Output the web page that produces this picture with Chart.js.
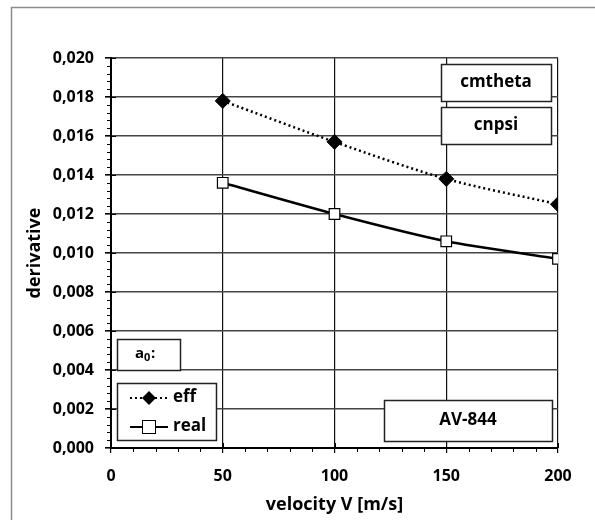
<!DOCTYPE html>
<html>
<head>
<meta charset="utf-8">
<script src="https://cdn.jsdelivr.net/npm/chart.js@4.4.1/dist/chart.umd.min.js"></script>
<style>
  html, body { margin: 0; padding: 0; background: #fff; }
  #wrap { width: 595px; height: 520px; position: relative; }
</style>
</head>
<body>
<div id="wrap"><canvas id="grafico"></canvas></div>
<script>
const velocity = [50, 100, 150, 200];
const derivEff = [0.0178, 0.0157, 0.0138, 0.0125];
const derivReal = [0.0136, 0.0120, 0.0106, 0.0097];
const xTicks = [0, 50, 100, 150, 200];
const yTicks = [0, 0.002, 0.004, 0.006, 0.008, 0.010, 0.012, 0.014, 0.016, 0.018, 0.020];
const boxLabels = ["cmtheta", "cnpsi", "AV-844"];

const FONT = '"Open Sans", sans-serif';

const toPoints = (xs, ys) => xs.map((x, i) => ({ x: x, y: ys[i] }));

// frame, minor ticks, text boxes and legend
const extras = {
    id: 'extras',
    beforeDraw(chart) {
        const c = chart.ctx;
        c.save();
        c.fillStyle = '#fff';
        c.fillRect(0, 0, chart.width, chart.height);
        c.strokeStyle = '#8c8c8c';
        c.lineWidth = 1.5;
        c.beginPath();
        c.moveTo(11.5, chart.height);
        c.lineTo(11.5, 7.5);
        c.lineTo(chart.width, 7.5);
        c.stroke();
        c.restore();
    },
    afterDraw(chart) {
        const c = chart.ctx;
        const xs = chart.scales.x, ys = chart.scales.y;
        const a = chart.chartArea;
        c.save();
        c.strokeStyle = '#000';
        c.lineWidth = 1;
        // minor ticks
        for (let v = 0; v <= 200; v += 10) {
            if (v % 50 === 0) continue;
            const px = Math.round(xs.getPixelForValue(v)) + 0.5;
            c.beginPath(); c.moveTo(px, a.bottom); c.lineTo(px, a.bottom + 4); c.stroke();
        }
        for (let i = 0; i <= 50; i++) {
            if (i % 5 === 0) continue;
            const py = Math.round(ys.getPixelForValue(i * 0.0004)) + 0.5;
            c.beginPath(); c.moveTo(a.left - 4, py); c.lineTo(a.left, py); c.stroke();
        }
        xTicks.forEach(v => {
            const px = Math.round(xs.getPixelForValue(v)) + 0.5;
            c.beginPath(); c.moveTo(px, a.bottom); c.lineTo(px, a.bottom - 5); c.stroke();
        });
        yTicks.forEach(v => {
            const py = Math.round(ys.getPixelForValue(v)) + 0.5;
            c.beginPath(); c.moveTo(a.left, py); c.lineTo(a.left + 5, py); c.stroke();
        });

        const box = (x, y, w, h) => {
            c.fillStyle = '#fff';
            c.fillRect(x, y, w, h);
            c.strokeStyle = '#222';
            c.lineWidth = 1.5;
            c.strokeRect(x + 0.5, y + 0.5, w, h);
        };
        c.textAlign = 'center';
        c.textBaseline = 'middle';
        c.font = 'bold 17px ' + FONT;
        box(441, 64, 110, 37);
        c.fillStyle = '#000'; c.fillText(boxLabels[0], 496, 82);
        box(441, 107, 110, 37);
        c.fillStyle = '#000'; c.fillText(boxLabels[1], 496, 125);
        box(384, 400, 168, 41);
        c.fillStyle = '#000'; c.fillText(boxLabels[2], 468, 420);

        // a0 box
        box(117, 339, 63, 31);
        c.fillStyle = '#000';
        c.textAlign = 'left';
        c.font = 'bold 15px ' + FONT;
        c.fillText('a', 135, 354);
        c.font = 'bold 11px ' + FONT;
        c.fillText('0', 144, 358);
        c.font = 'bold 15px ' + FONT;
        c.fillText(':', 151, 354);

        // legend
        box(117, 383, 99, 57);
        chart.data.datasets.forEach((ds, i) => {
            const ly = 398 + i * 29;
            c.strokeStyle = '#000';
            c.lineWidth = 2;
            c.setLineDash(ds.borderDash || []);
            c.beginPath(); c.moveTo(130, ly); c.lineTo(168, ly); c.stroke();
            c.setLineDash([]);
            c.lineWidth = 1;
            if (ds.pointStyle === 'rectRot') {
                c.fillStyle = '#000';
                c.beginPath();
                c.moveTo(149, ly - 7); c.lineTo(156, ly); c.lineTo(149, ly + 7); c.lineTo(142, ly);
                c.closePath(); c.fill();
            } else {
                c.fillStyle = '#fff';
                c.fillRect(142.5, ly - 6.5, 13, 13);
                c.strokeStyle = '#000';
                c.strokeRect(142.5, ly - 6.5, 13, 13);
            }
            c.fillStyle = '#000';
            c.font = 'bold 17px ' + FONT;
            c.fillText(ds.label, 173, ly - 1);
        });
        c.restore();
    }
};

const createChart = (id) => {
    const ctx = document.getElementById(id);
    new Chart(ctx, {
        type: 'line',
        data: {
            datasets: [{
                label: 'eff',
                data: toPoints(velocity, derivEff),
                borderColor: '#000',
                backgroundColor: '#000',
                borderWidth: 2.5,
                borderDash: [2, 3],
                pointStyle: 'rectRot',
                pointRadius: 7.5,
                pointBorderWidth: 1,
                pointBackgroundColor: '#000',
                pointBorderColor: '#000',
                tension: 0.3
            }, {
                label: 'real',
                data: toPoints(velocity, derivReal),
                borderColor: '#000',
                backgroundColor: '#fff',
                borderWidth: 2.5,
                pointStyle: 'rect',
                pointRadius: 7.5,
                pointBorderWidth: 1.2,
                pointBackgroundColor: '#fff',
                pointBorderColor: '#000',
                tension: 0.2
            }]
        },
        options: {
            responsive: false,
            animation: false,
            layout: { padding: { left: 20, right: 37, top: 58, bottom: 0 } },
            plugins: { legend: { display: false }, tooltip: { enabled: false } },
            scales: {
                x: {
                    type: 'linear',
                    min: 0,
                    max: 200,
                    afterBuildTicks: (s) => { s.ticks = xTicks.map(v => ({ value: v })); },
                    afterFit: (s) => { s.height = 72; },
                    grid: { color: '#111', lineWidth: 1.2, tickLength: 5, tickColor: '#000' },
                    border: { color: '#000', width: 2 },
                    ticks: {
                        color: '#000',
                        padding: 14,
                        font: { family: FONT, size: 16, weight: 'bold' }
                    },
                    title: {
                        display: true,
                        text: 'velocity V [m/s]',
                        color: '#000',
                        padding: { top: 0 },
                        font: { family: FONT, size: 18, weight: 'bold' }
                    }
                },
                y: {
                    min: 0,
                    max: 0.02,
                    afterBuildTicks: (s) => { s.ticks = yTicks.map(v => ({ value: v })); },
                    afterFit: (s) => { s.width = 91; },
                    grid: { color: '#444', lineWidth: 1.6, tickLength: 6, tickColor: '#000' },
                    border: { color: '#000', width: 2 },
                    ticks: {
                        color: '#000',
                        padding: 11,
                        font: { family: FONT, size: 16, weight: 'bold' },
                        callback: (v) => v.toFixed(3).replace('.', ',')
                    },
                    title: {
                        display: true,
                        text: 'derivative',
                        color: '#000',
                        padding: { bottom: 0 },
                        font: { family: FONT, size: 18, weight: 'bold' }
                    }
                }
            }
        },
        plugins: [extras]
    });
}

const cv = document.getElementById('grafico');
cv.width = 595; cv.height = 520;
createChart('grafico');
</script>
</body>
</html>
